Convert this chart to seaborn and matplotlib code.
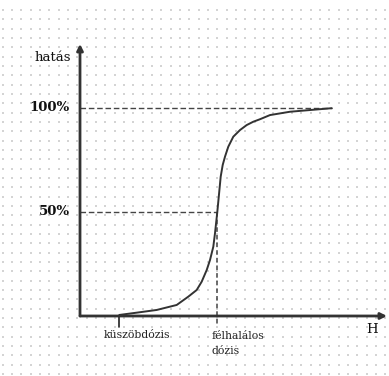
import numpy as np
import pandas as pd
import matplotlib
matplotlib.use("Agg")
import matplotlib.pyplot as plt
import seaborn as sns

# --- data (dose in arbitrary units, effect in %) ---
dose = [3.93, 5.67, 7.67, 9.67, 10.83, 11.67, 12.17, 12.67, 13.0, 13.33, 13.5,
        13.73, 14.07, 14.27, 14.5, 14.83, 15.33, 16.0, 16.67, 17.33, 18.0,
        19.0, 21.0, 25.17]
effect = [0.5, 1.6, 2.9, 5.3, 9.3, 12.5, 16.5, 22.1, 26.9, 33.3, 39.8,
          50.0, 67.0, 72.6, 76.6, 81.4, 86.2, 89.4, 91.8, 93.4, 94.6,
          96.6, 98.2, 99.9]
threshold_dose = 3.9
half_lethal_dose = 13.7
y_levels = [100, 50]
y_labels = ["100%", "50%"]
y_title = "hatás"
x_title = "H"
threshold_label = "küszöbdózis"
half_label = "félhalálos\ndózis"

df = pd.DataFrame({"dose": dose, "effect": effect})

sns.set_theme(style="white")
plt.rcParams["font.family"] = ["DejaVu Serif"]

fig = plt.figure(figsize=(3.89, 3.76), dpi=100)
ax = fig.add_axes([0, 0, 1, 1])
XMIN, XMAX = -8.0, 30.9
YMIN, YMAX = -28.85, 151.92
ax.set_xlim(XMIN, XMAX)
ax.set_ylim(YMIN, YMAX)
ax.axis("off")

# dotted background pattern
bg = fig.add_axes([0, 0, 1, 1], zorder=-1)
bg.set_xlim(0, 389)
bg.set_ylim(376, 0)
bg.axis("off")
gx, gy = np.meshgrid(np.arange(2.7, 389, 9.33), np.arange(10, 376, 9.33))
bg.scatter(gx.ravel(), gy.ravel(), s=0.6, marker="s", color="#d4d4d4", linewidths=0)

# dashed guide lines
dcol = "#444444"
ax.plot([0, dose[-1]], [100, 100], ls=(0, (4, 2)), color=dcol, lw=1)
ax.plot([0, half_lethal_dose], [50, 50], ls=(0, (4, 2)), color=dcol, lw=1)
ax.plot([half_lethal_dose, half_lethal_dose], [50, -5], ls=(0, (3, 2)), color=dcol, lw=1.1)
# threshold tick
ax.plot([threshold_dose, threshold_dose], [0, -5.3], color="#222222", lw=1.2)

# curve
sns.lineplot(data=df, x="dose", y="effect", ax=ax, color="#333333", lw=1.4, zorder=3)

# axes with arrows
ax.annotate("", xy=(30.7, 0), xytext=(0, 0),
            arrowprops=dict(arrowstyle="-|>", color="#333333", lw=2, mutation_scale=9,
                            shrinkA=0, shrinkB=0))
ax.annotate("", xy=(0, 130.8), xytext=(0, 0),
            arrowprops=dict(arrowstyle="-|>", color="#333333", lw=2, mutation_scale=9,
                            shrinkA=0, shrinkB=0))

# texts
ax.text(-0.9, 124.5, y_title, ha="right", va="center", fontsize=9.5, color="#111111")
for lv, lb in zip(y_levels, y_labels):
    ax.text(-1.0, lv, lb, ha="right", va="center", fontsize=9.5,
            fontweight="bold", color="#111111")
ax.text(5.7, -9.1, threshold_label, ha="center", va="center", fontsize=7.8, color="#222222")
ax.text(13.2, -13.4, half_label, ha="left", va="center", fontsize=7.8,
        color="#222222", linespacing=1.6)
ax.text(29.2, -6.7, x_title, ha="center", va="center", fontsize=9.5, color="#111111")

fig.savefig("out.png", dpi=100)
